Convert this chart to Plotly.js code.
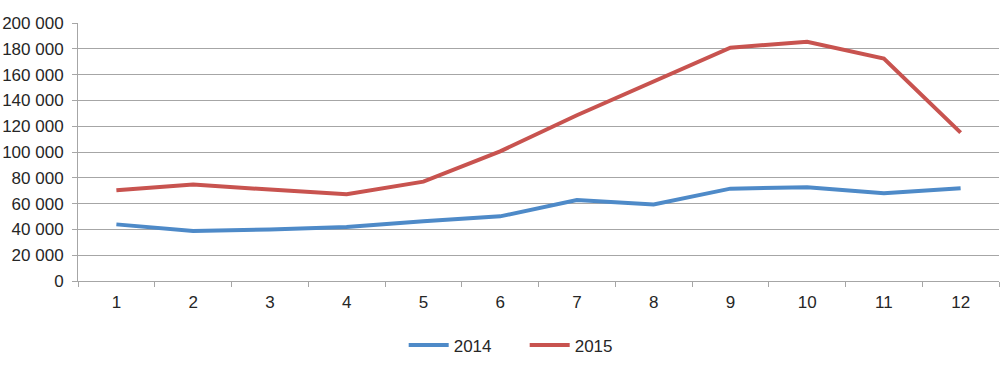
<!DOCTYPE html>
<html>
<head>
<meta charset="utf-8">
<script src="https://cdn.plot.ly/plotly-3.0.1.min.js"></script>
<style>html,body{margin:0;padding:0;background:#fff;}#chart{width:1000px;height:369px;}</style>
</head>
<body>
<div id="chart"></div>
<script>
const months = ["1","2","3","4","5","6","7","8","9","10","11","12"];
const values2014 = [43900, 38800, 40000, 41900, 46300, 50100, 62800, 59300, 71600, 72700, 68000, 71900];
const values2015 = [70300, 74800, 70900, 67300, 77000, 100500, 128500, 154500, 180800, 185500, 172500, 115000];
const yTicks = [0, 20000, 40000, 60000, 80000, 100000, 120000, 140000, 160000, 180000, 200000];

const traces = [
  {x: months, y: values2014, name: "2014", type: "scatter", mode: "lines",
   line: {color: "#4e8ac8", width: 4}},
  {x: months, y: values2015, name: "2015", type: "scatter", mode: "lines",
   line: {color: "#c8534f", width: 4}}
];

const layout = {
  width: 1000, height: 369,
  margin: {l: 78, r: 1, t: 23, b: 88},
  paper_bgcolor: "#fff", plot_bgcolor: "#fff",
  separators: ", ",
  font: {family: "Liberation Sans, Arial, sans-serif", size: 17, color: "#262626"},
  showlegend: true,
  legend: {orientation: "h", x: 0.485, xanchor: "center", y: -0.18, yanchor: "top",
           font: {size: 17}, itemwidth: 40, entrywidth: 66, traceorder: "normal"},
  xaxis: {type: "category", range: [-0.5, 11.5], tickson: "boundaries",
          ticks: "outside", ticklen: 5, tickcolor: "#a6a6a6", tickwidth: 1,
          ticklabelstandoff: 6,
          showline: true, linecolor: "#a6a6a6", linewidth: 1,
          showgrid: false, zeroline: false, fixedrange: true},
  yaxis: {range: [0, 200000], tickvals: yTicks, tickformat: ",d",
          ticks: "outside", ticklen: 5, tickcolor: "#a6a6a6", tickwidth: 1,
          ticklabelstandoff: 5,
          showline: true, linecolor: "#a6a6a6", linewidth: 1,
          showgrid: true, gridcolor: "#a6a6a6", gridwidth: 1,
          zeroline: false, fixedrange: true}
};

Plotly.newPlot("chart", traces, layout, {displayModeBar: false, staticPlot: true});
</script>
</body>
</html>
